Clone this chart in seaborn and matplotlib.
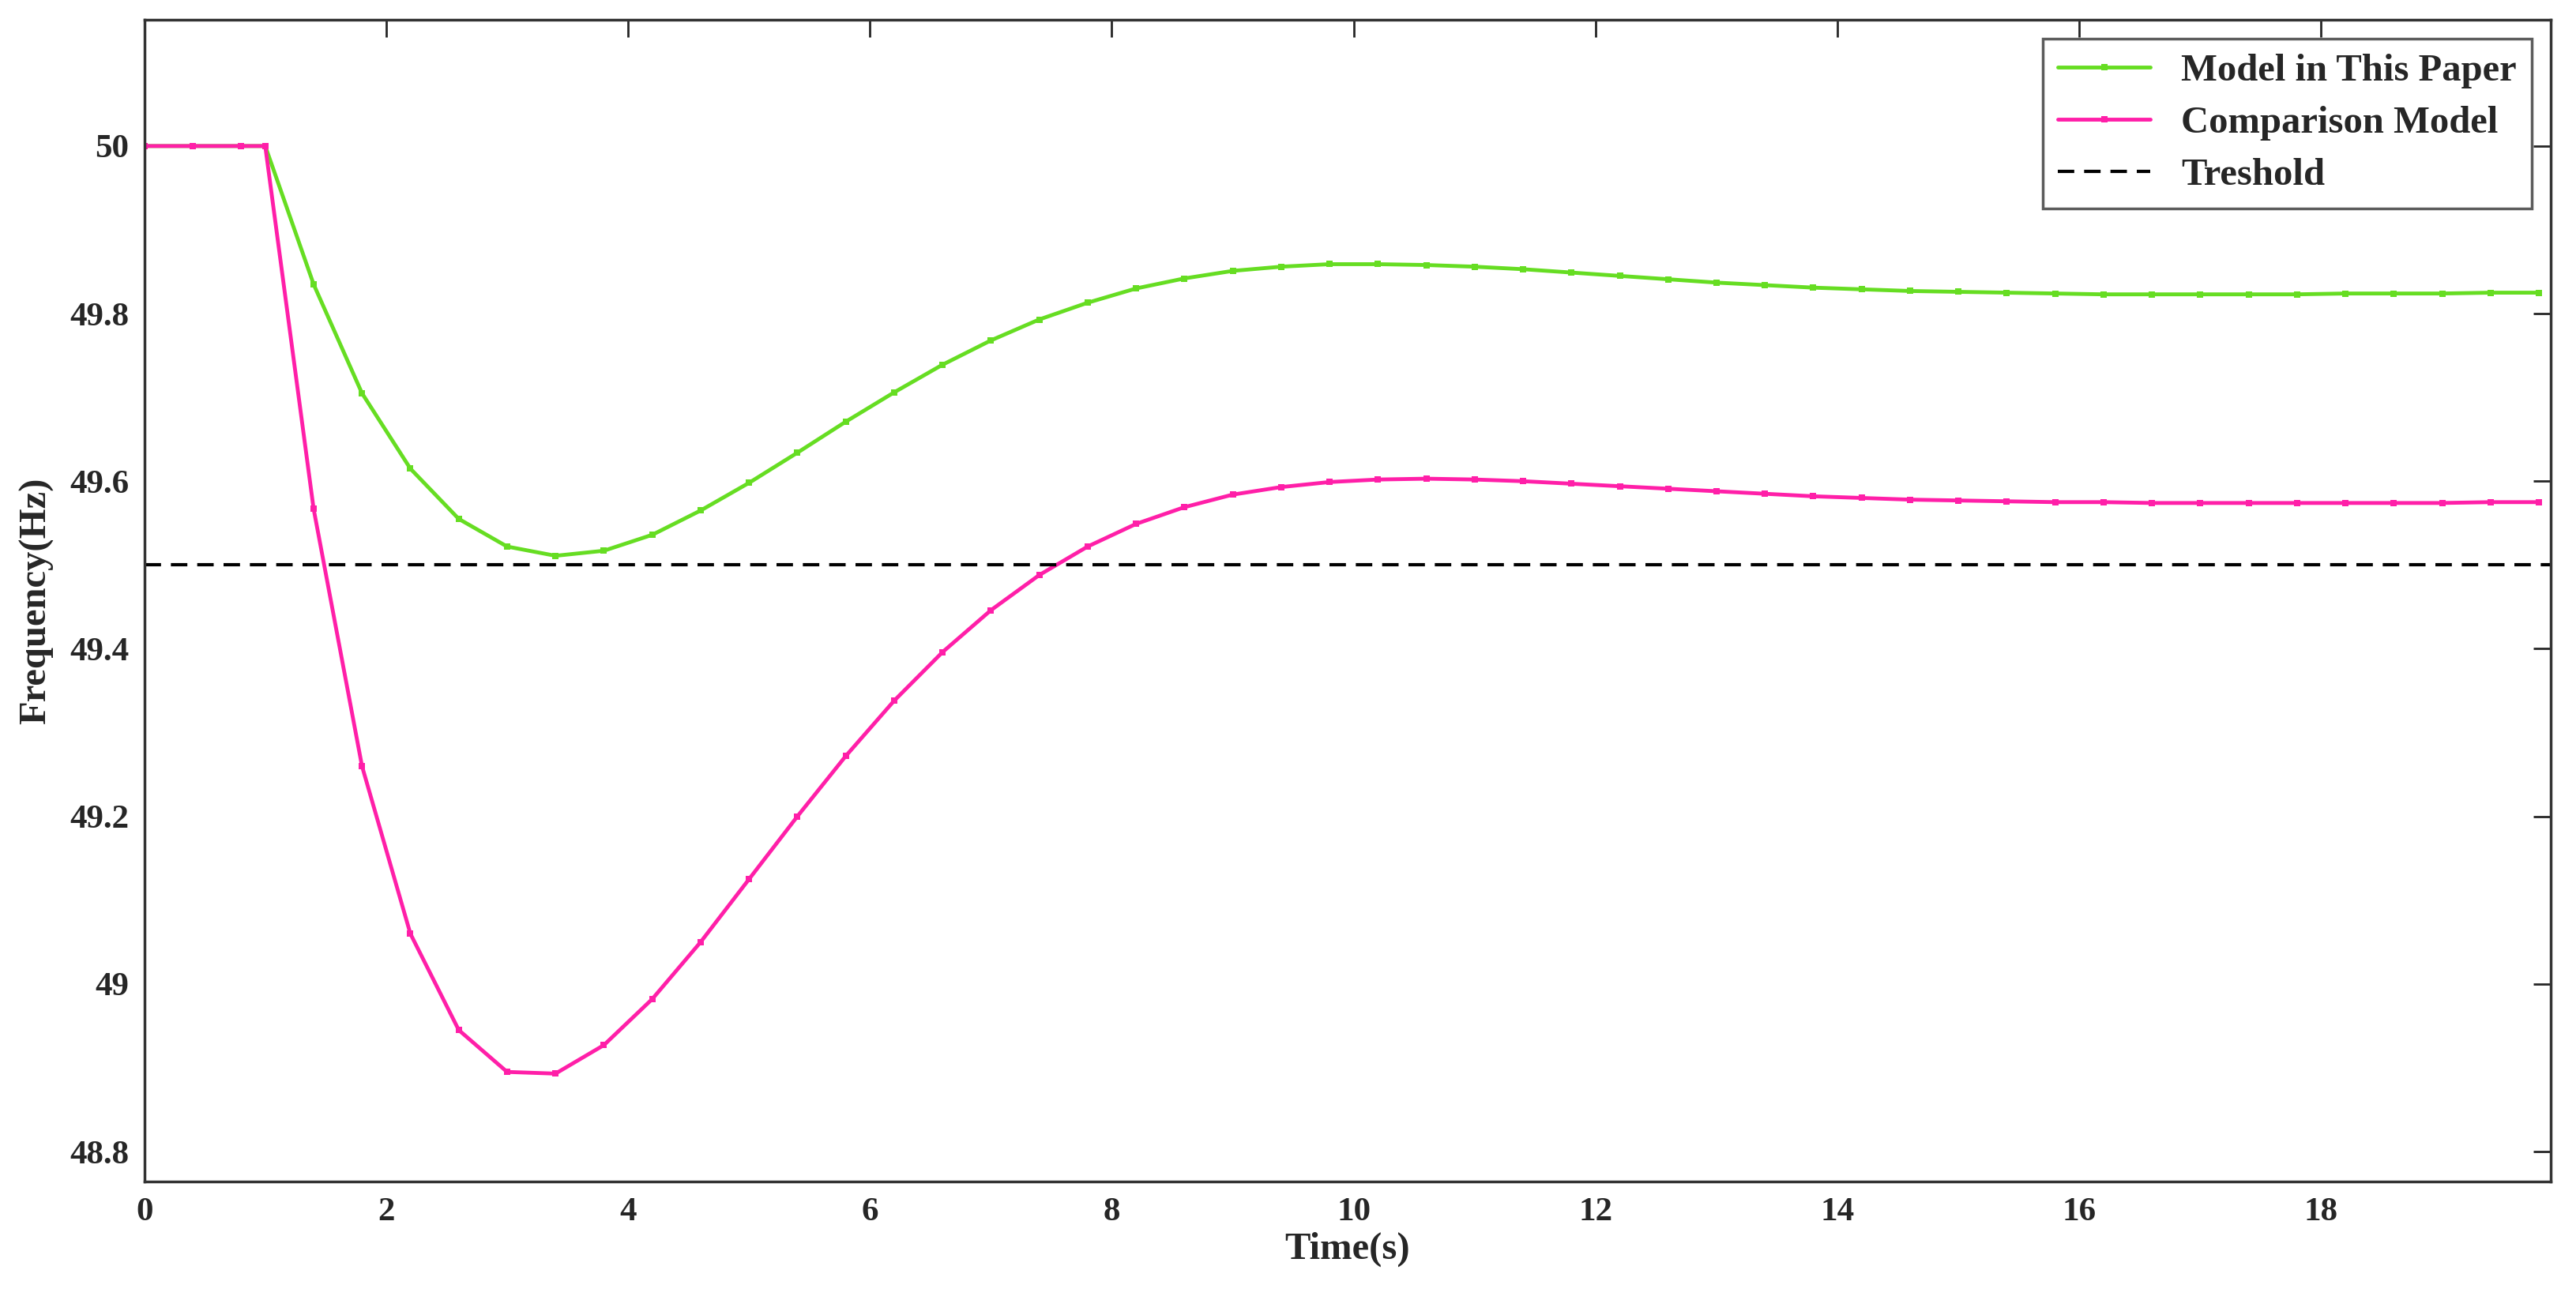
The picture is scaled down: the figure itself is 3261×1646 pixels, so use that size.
import numpy as np
import pandas as pd
import seaborn as sns
import matplotlib
matplotlib.use("Agg")
import matplotlib.pyplot as plt

time = [0, 0.4, 0.8, 1.0] + [round(1.4 + 0.4*k, 1) for k in range(47)]
model_paper = [50, 50, 50, 50, 49.835, 49.705, 49.615, 49.555, 49.522, 49.511, 49.517, 49.536, 49.565,
               49.598, 49.634, 49.671, 49.706, 49.739, 49.768, 49.793, 49.813, 49.830, 49.842, 49.851,
               49.856, 49.859, 49.859, 49.858, 49.856, 49.853, 49.849, 49.845, 49.841, 49.837, 49.834,
               49.831, 49.829, 49.827, 49.826, 49.825, 49.824, 49.823, 49.823, 49.823, 49.823, 49.823,
               49.824, 49.824, 49.824, 49.825, 49.825]
comparison = [50, 50, 50, 50, 49.567, 49.26, 49.06, 48.945, 48.895, 48.893, 48.927, 48.982, 49.05,
              49.125, 49.2, 49.272, 49.338, 49.396, 49.446, 49.488, 49.522, 49.549, 49.569, 49.584,
              49.593, 49.599, 49.602, 49.603, 49.602, 49.6, 49.597, 49.594, 49.591, 49.588, 49.585,
              49.582, 49.58, 49.578, 49.577, 49.576, 49.575, 49.575, 49.574, 49.574, 49.574, 49.574,
              49.574, 49.574, 49.574, 49.575, 49.575]
threshold = 49.5
labels = ["Model in This Paper", "Comparison Model", "Treshold"]

sns.set_style("white")
plt.rcParams['font.family'] = ['Liberation Serif', 'DejaVu Serif']

fig = plt.figure(figsize=(32.62, 16.46), dpi=100)
ax = fig.add_axes([0.056, 0.091, 0.934, 0.894])
df = pd.DataFrame({"t": time, "a": model_paper, "b": comparison})
sns.lineplot(data=df, x="t", y="a", ax=ax, color="#66dd22", lw=3.5, marker="s", ms=6,
             markeredgewidth=0, label=labels[0])
sns.lineplot(data=df, x="t", y="b", ax=ax, color="#ff1fa8", lw=3.5, marker="s", ms=6,
             markeredgewidth=0, label=labels[1])
ax.axhline(threshold, color="black", lw=3, ls=(0, (5, 3)), label=labels[2])

ax.set_xlim(0, 19.9)
ax.set_ylim(48.764, 50.151)
ax.set_xticks(np.arange(0, 19, 2))
ax.set_yticks([48.8, 49.0, 49.2, 49.4, 49.6, 49.8, 50.0])
ax.set_yticklabels(["48.8", "49", "49.2", "49.4", "49.6", "49.8", "50"])
ax.tick_params(labelsize=31, direction="in", length=16, width=2, top=True, right=True, pad=14)
for t in ax.get_xticklabels() + ax.get_yticklabels():
    t.set_fontweight("bold")
for s in ax.spines.values():
    s.set_linewidth(2.5)
    s.set_color("#333333")
ax.set_xlabel("Time(s)", fontsize=35, fontweight="bold", labelpad=4)
ax.set_ylabel("Frequency(Hz)", fontsize=35, fontweight="bold", labelpad=14)
leg = ax.legend(loc="upper right", prop={"weight": "bold", "size": 35},
                frameon=True, fancybox=False, edgecolor="#333333", handlelength=2.4,
                borderpad=0.4, labelspacing=0.45, borderaxespad=0.5)
leg.get_frame().set_linewidth(2.5)
fig.savefig("out.png", dpi=100)
